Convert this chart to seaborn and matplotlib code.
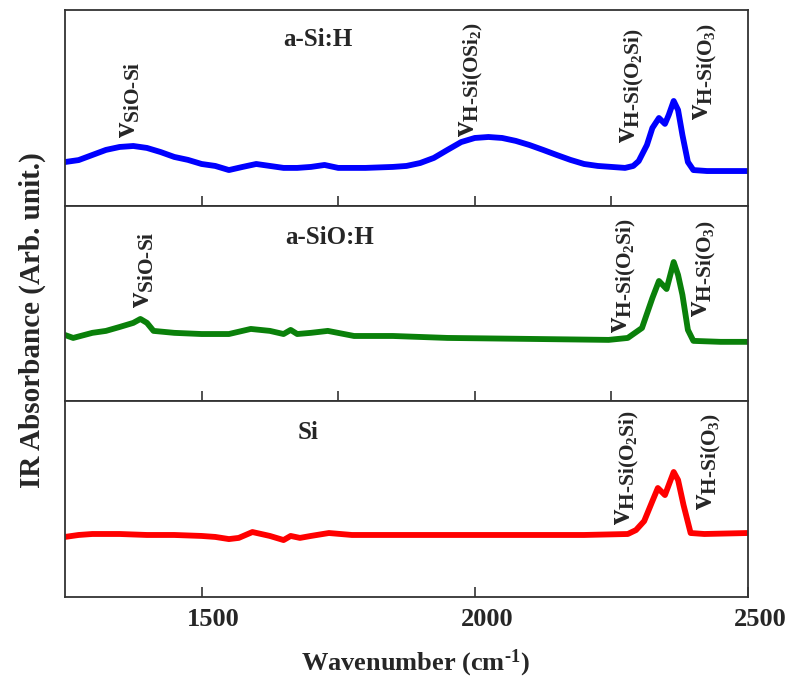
import numpy as np
import pandas as pd
import matplotlib
matplotlib.use("Agg")
import matplotlib.pyplot as plt
from matplotlib.transforms import ScaledTranslation
import seaborn as sns

# ---------------- data ----------------
wn_asih = [1250, 1275, 1300, 1325, 1350, 1375, 1400, 1425, 1450, 1475, 1500, 1525,
           1550, 1575, 1600, 1625, 1650, 1675, 1700, 1725, 1750, 1775, 1800, 1850,
           1875, 1900, 1925, 1950, 1975, 2000, 2025, 2050, 2075, 2100, 2125, 2150,
           2175, 2200, 2225, 2250, 2275, 2290, 2300, 2315, 2325, 2337, 2348, 2355,
           2364, 2372, 2380, 2390, 2400, 2425, 2450, 2500]
abs_asih = [0.223, 0.233, 0.259, 0.285, 0.300, 0.305, 0.295, 0.274, 0.249, 0.234, 0.213, 0.203,
            0.182, 0.198, 0.213, 0.203, 0.193, 0.193, 0.198, 0.208, 0.193, 0.193, 0.193, 0.198,
            0.203, 0.218, 0.244, 0.285, 0.325, 0.346, 0.351, 0.346, 0.331, 0.310, 0.285, 0.259,
            0.234, 0.213, 0.203, 0.198, 0.193, 0.203, 0.228, 0.310, 0.397, 0.448, 0.418, 0.464,
            0.535, 0.489, 0.361, 0.223, 0.182, 0.177, 0.177, 0.177]

wn_asioh = [1250, 1265, 1300, 1325, 1350, 1375, 1388, 1400, 1412, 1450, 1500, 1550,
            1590, 1625, 1650, 1663, 1675, 1700, 1731, 1779, 1850, 1950, 2100, 2245,
            2280, 2306, 2325, 2337, 2351, 2364, 2372, 2380, 2390, 2400, 2450, 2500]
abs_asioh = [0.339, 0.324, 0.350, 0.360, 0.380, 0.401, 0.421, 0.401, 0.360, 0.350, 0.344, 0.344,
             0.370, 0.360, 0.344, 0.365, 0.344, 0.350, 0.360, 0.334, 0.334, 0.324, 0.319, 0.314,
             0.324, 0.375, 0.528, 0.615, 0.574, 0.712, 0.646, 0.544, 0.365, 0.309, 0.304, 0.304]

wn_si = [1250, 1275, 1300, 1350, 1400, 1450, 1500, 1525, 1550, 1568, 1593, 1625,
         1650, 1663, 1680, 1700, 1733, 1775, 1850, 2000, 2200, 2280, 2295, 2310,
         2325, 2335, 2348, 2364, 2372, 2382, 2395, 2420, 2500]
abs_si = [0.307, 0.317, 0.322, 0.322, 0.317, 0.317, 0.312, 0.307, 0.296, 0.302, 0.332, 0.312,
          0.291, 0.312, 0.302, 0.312, 0.327, 0.317, 0.317, 0.317, 0.317, 0.322, 0.342, 0.388,
          0.490, 0.557, 0.521, 0.639, 0.598, 0.470, 0.327, 0.322, 0.327]

sample_names = ["a-Si:H", "a-SiO:H", "Si"]
line_colors = ["#0000ff", "#0a800a", "#ff0000"]

# annotations: (panel, text, wavenumber, absorbance at bottom of label)
ann_panel = [0, 0, 0, 0, 1, 1, 1, 2, 2]
ann_text = [r"$\mathrm{v}_{\mathbf{SiO\text{-}Si}}$",
            r"$\mathrm{v}_{\mathrm{H\text{-}Si(OSi_2)}}$",
            r"$\mathrm{v}_{\mathrm{H\text{-}Si(O_2Si)}}$",
            r"$\mathrm{v}_{\mathrm{H\text{-}Si(O_3)}}$",
            r"$\mathrm{v}_{\mathbf{SiO\text{-}Si}}$",
            r"$\mathrm{v}_{\mathrm{H\text{-}Si(O_2Si)}}$",
            r"$\mathrm{v}_{\mathrm{H\text{-}Si(O_3)}}$",
            r"$\mathrm{v}_{\mathrm{H\text{-}Si(O_2Si)}}$",
            r"$\mathrm{v}_{\mathrm{H\text{-}Si(O_3)}}$"]
ann_wn = [1366, 1993, 2287, 2421, 1391, 2272, 2419, 2278, 2427]
ann_y = [0.346, 0.351, 0.320, 0.438, 0.477, 0.350, 0.431, 0.368, 0.444]

label_wn = [1650, 1654, 1676]
label_y = [0.847, 0.835, 0.842]

# ---------------- styling ----------------
sns.set_style("ticks")
plt.rcParams["font.family"] = ["Liberation Serif", "DejaVu Serif"]
plt.rcParams["font.weight"] = "bold"
plt.rcParams["mathtext.fontset"] = "custom"
plt.rcParams["mathtext.rm"] = "Liberation Serif"
plt.rcParams["mathtext.bf"] = "Liberation Serif:bold"
plt.rcParams["mathtext.it"] = "Liberation Serif:italic"

df = pd.concat([
    pd.DataFrame({"wn": wn_asih, "A": abs_asih, "sample": sample_names[0]}),
    pd.DataFrame({"wn": wn_asioh, "A": abs_asioh, "sample": sample_names[1]}),
    pd.DataFrame({"wn": wn_si, "A": abs_si, "sample": sample_names[2]}),
])

fig = plt.figure(figsize=(7.9, 6.81), dpi=100)
left, right = 65 / 790, 748 / 790
top_px, bot_px = 10, 597
h_px = (bot_px - top_px) / 3
axes = []
for i in range(3):
    y0 = 1 - (top_px + (i + 1) * h_px) / 681
    ax = fig.add_axes([left, y0, right - left, h_px / 681])
    axes.append(ax)

for i, ax in enumerate(axes):
    sub = df[df["sample"] == sample_names[i]]
    sns.lineplot(data=sub, x="wn", y="A", ax=ax, color=line_colors[i],
                 linewidth=4.2, legend=False, estimator=None, sort=True)
    ax.set_xlim(1250, 2500)
    ax.set_ylim(0, 1)
    ax.set_yticks([])
    ax.set_xlabel("")
    ax.set_ylabel("")
    for sp in ax.spines.values():
        sp.set_visible(True)
        sp.set_linewidth(1.3)
        sp.set_color("#333333")
    ax.tick_params(axis="x", direction="in", length=7, width=1.2, color="#333333",
                   top=False, bottom=True)
    if i < 2:
        ax.set_xticks([1500, 1750, 2000, 2250])
        ax.tick_params(axis="x", labelbottom=False)
    else:
        ax.set_xticks([1500, 2000, 2500])
        ax.set_xticklabels(["1500", "2000", "2500"], fontsize=19, fontweight="bold")
        ax.tick_params(axis="x", pad=8)
        shift = ScaledTranslation(12 / 100, 0, fig.dpi_scale_trans)
        for lab in ax.get_xticklabels():
            lab.set_transform(lab.get_transform() + shift)
    ax.text(label_wn[i], label_y[i], sample_names[i], fontsize=18, fontweight="bold",
            ha="left", va="center")

for p, t, x, y in zip(ann_panel, ann_text, ann_wn, ann_y):
    axes[p].text(x, y, t, rotation=90, ha="center", va="bottom", fontsize=22)

fig.text(415 / 790, 1 - 663 / 681, r"Wavenumber (cm$^{\mathbf{\text{-}1}}$)", fontsize=19,
         fontweight="bold", ha="center", va="center")
fig.text(32 / 790, 1 - 320 / 681, "IR Absorbance (Arb. unit.)", rotation=90,
         ha="center", va="center", fontsize=21, fontweight="bold")

fig.savefig("out.png", dpi=100)
